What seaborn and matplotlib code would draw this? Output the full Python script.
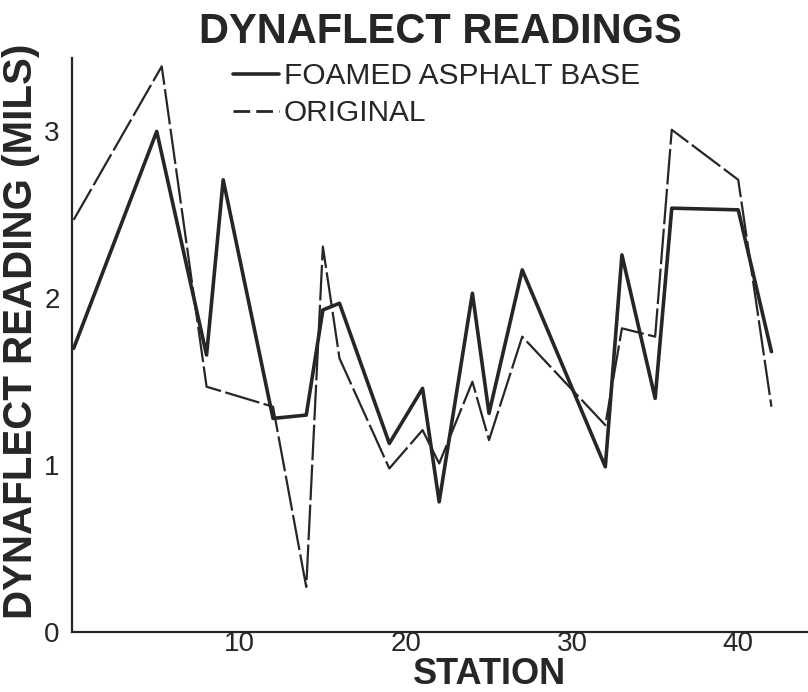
import matplotlib
matplotlib.use("Agg")
import matplotlib.pyplot as plt
from matplotlib.lines import Line2D
import seaborn as sns
import pandas as pd

# ---- data ----
stations_foamed = [0, 5, 8, 9, 12, 14, 15, 16, 19, 21, 22, 24, 25, 27, 32, 33, 35, 36, 40, 42]
foamed = [1.70, 3.00, 1.66, 2.71, 1.28, 1.30, 1.93, 1.97, 1.13, 1.46, 0.78, 2.03, 1.31,
          2.17, 0.99, 2.26, 1.40, 2.54, 2.53, 1.68]
stations_original = [0, 5.3, 8, 12, 14, 15, 16, 19, 21, 22, 24, 25, 27, 32, 33, 35, 36, 40, 42]
original = [2.47, 3.39, 1.47, 1.35, 0.27, 2.31, 1.64, 0.98, 1.21, 1.01, 1.50, 1.15, 1.77,
            1.24, 1.82, 1.77, 3.01, 2.71, 1.35]
x_ticks = [10, 20, 30, 40]
y_ticks = [0, 1, 2, 3]
series_labels = ["FOAMED ASPHALT BASE", "ORIGINAL"]
title = "DYNAFLECT READINGS"
x_label = "STATION"
y_label = "DYNAFLECT READING (MILS)"

sns.set_style("white")
plt.rcParams["font.family"] = ["Liberation Sans", "DejaVu Sans"]
INK = "#262626"

df_f = pd.DataFrame({"station": stations_foamed, "reading": foamed})
df_o = pd.DataFrame({"station": stations_original, "reading": original})

fig = plt.figure(figsize=(8.08, 6.92), dpi=100)
ax = fig.add_axes([72 / 808, 1 - 632 / 692, 736 / 808, 574 / 692])

sns.lineplot(data=df_o, x="station", y="reading", ax=ax, color=INK, lw=1.6,
             linestyle=(0, (16, 2)), estimator=None, sort=False, legend=False)
sns.lineplot(data=df_f, x="station", y="reading", ax=ax, color=INK, lw=2.6,
             estimator=None, sort=False, legend=False)

ax.set_xlim(-0.1, 44.2)
ax.set_ylim(0, 3.44)
ax.set_xticks(x_ticks)
ax.set_yticks(y_ticks)
ax.tick_params(direction="in", length=6, width=1.2, colors=INK, labelsize=20)
ax.tick_params(axis="x", pad=-1)
ax.tick_params(axis="y", pad=9)
for s in ["top", "right"]:
    ax.spines[s].set_visible(False)
for s in ["left", "bottom"]:
    ax.spines[s].set_color(INK)
    ax.spines[s].set_linewidth(1.6)

ax.set_xlabel(x_label, fontsize=26, fontweight="bold", color=INK)
ax.xaxis.label.set_va("baseline")
ax.xaxis.set_label_coords(0.567, (632 - 684) / 574)
ax.set_ylabel(y_label, fontsize=29, fontweight="bold", color=INK)
ax.yaxis.set_label_coords(-0.044, 0.524)

fig.text(440 / 808, 1 - 32 / 692, title, fontsize=30, fontweight="bold",
         color=INK, ha="center", va="center")

handles = [
    Line2D([], [], color=INK, lw=2.6),
    Line2D([], [], color=INK, lw=2.0, linestyle=(0, (6, 2.2))),
]
leg = ax.legend(handles, series_labels, loc="upper left",
                bbox_to_anchor=(233 / 808, 1 - 62 / 692), bbox_transform=fig.transFigure,
                frameon=False, fontsize=21.5, handlelength=1.55, handletextpad=0.15,
                borderpad=0, borderaxespad=0, labelspacing=0.3)
for t in leg.get_texts():
    t.set_color(INK)

fig.savefig("out.png", dpi=100)
